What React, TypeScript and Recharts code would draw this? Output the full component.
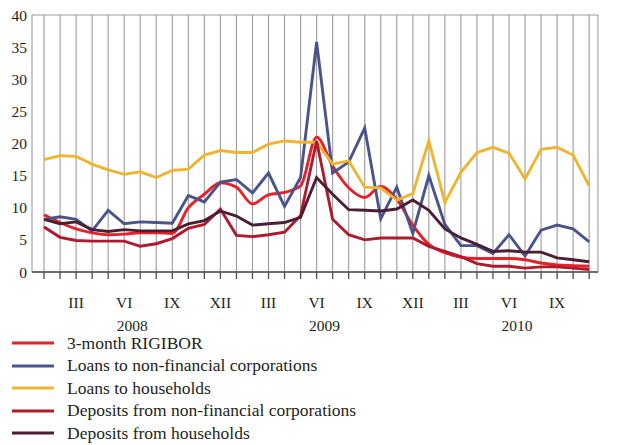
import { LineChart, Line, XAxis, YAxis, CartesianGrid, Legend } from 'recharts';

// monthly values, Jan 2008 - Nov 2010
const romanMonths = ['I', 'II', 'III', 'IV', 'V', 'VI', 'VII', 'VIII', 'IX', 'X', 'XI', 'XII'];
const shownMonths = ['III', 'VI', 'IX', 'XII'];
const years = ['2008', '2009', '2010'];

const rigibor = [8.9, 7.7, 6.7, 6.1, 5.8, 5.9, 6.1, 6.1, 6.0, 10.0, 12.1, 13.9, 13.2, 10.6, 12.0, 12.4, 13.4, 21.0, 16.5, 13.1, 11.6, 13.3, 11.3, 7.3, 4.3, 3.0, 2.3, 2.1, 2.1, 2.1, 1.9, 1.4, 1.1, 1.0, 0.9];
const loansNfc = [8.2, 8.6, 8.2, 6.4, 9.6, 7.5, 7.8, 7.7, 7.6, 11.9, 10.9, 14.0, 14.4, 12.3, 15.4, 10.2, 14.7, 35.8, 15.4, 17.1, 22.4, 8.3, 13.2, 6.0, 15.0, 7.4, 4.1, 4.1, 2.9, 5.8, 2.5, 6.5, 7.3, 6.7, 4.7];
const loansHh = [17.5, 18.1, 18.0, 16.8, 15.9, 15.2, 15.6, 14.7, 15.8, 16.0, 18.2, 18.9, 18.6, 18.6, 19.9, 20.4, 20.2, 20.2, 16.8, 17.3, 13.2, 13.1, 11.2, 12.2, 20.4, 10.8, 15.5, 18.6, 19.4, 18.5, 14.5, 19.1, 19.4, 18.2, 13.4];
const depositsNfc = [7.0, 5.4, 4.9, 4.8, 4.8, 4.8, 4.0, 4.4, 5.2, 6.8, 7.4, 9.8, 5.7, 5.5, 5.8, 6.2, 8.8, 20.4, 8.2, 5.8, 5.0, 5.3, 5.3, 5.3, 4.0, 3.2, 2.4, 1.3, 0.9, 0.9, 0.6, 0.8, 0.8, 0.6, 0.4];
const depositsHh = [8.2, 7.5, 7.8, 6.6, 6.3, 6.6, 6.4, 6.4, 6.4, 7.5, 8.0, 9.5, 8.7, 7.3, 7.5, 7.7, 8.5, 14.7, 12.1, 9.7, 9.6, 9.5, 9.8, 11.2, 9.6, 6.7, 5.3, 4.3, 3.2, 3.3, 3.1, 3.1, 2.2, 1.9, 1.6];

const data = rigibor.map((v, i) => ({
  i,
  rigibor: v,
  loansNfc: loansNfc[i],
  loansHh: loansHh[i],
  depositsNfc: depositsNfc[i],
  depositsHh: depositsHh[i],
}));

const series = [
  { key: 'rigibor', name: '3-month RIGIBOR', color: '#e62129', type: 'monotone' },
  { key: 'loansNfc', name: 'Loans to non-financial corporations', color: '#4a548a', type: 'linear' },
  { key: 'loansHh', name: 'Loans to households', color: '#efb52e', type: 'linear' },
  { key: 'depositsNfc', name: 'Deposits from non-financial corporations', color: '#b01a2c', type: 'linear' },
  { key: 'depositsHh', name: 'Deposits from households', color: '#4a1f34', type: 'linear' },
];

const FONT = '"Liberation Serif", "Times New Roman", serif';
const TEXT = '#231f20';
const xTicks = data.map((d) => d.i);
const yTicks = [0, 5, 10, 15, 20, 25, 30, 35, 40];

const MonthTick = (props: any) => {
  const { x, y, payload } = props;
  const idx = payload.value as number;
  const month = romanMonths[idx % 12];
  const yearLabel = idx % 12 === 5 ? years[Math.floor(idx / 12)] : null;
  return (
    <g>
      {shownMonths.includes(month) && (
        <text x={x} y={y + 29} textAnchor="middle" fontFamily={FONT} fontSize={15.5} fill={TEXT}>
          {month}
        </text>
      )}
      {yearLabel && (
        <text x={x + 8} y={y + 52} textAnchor="middle" fontFamily={FONT} fontSize={15.5} fill={TEXT}>
          {yearLabel}
        </text>
      )}
    </g>
  );
};

const LegendBox = () => (
  <div style={{ height: 113, fontFamily: FONT, fontSize: 17.5, color: TEXT }}>
    {series.map((s) => (
      <div key={s.key} style={{ height: 22.5, display: 'flex', alignItems: 'center' }}>
        <svg width={67} height={22} style={{ flex: 'none' }}>
          <line x1={12} x2={54} y1={11} y2={11} stroke={s.color} strokeWidth={3} />
        </svg>
        <span style={{ whiteSpace: 'nowrap', lineHeight: '17px' }}>{s.name}</span>
      </div>
    ))}
  </div>
);

export default function App() {
  return (
    <div style={{ position: 'absolute', left: 0, top: 0, width: 624, height: 445, background: '#fff' }}>
      <LineChart width={624} height={445} data={data} margin={{ top: 15, right: 0, bottom: 0, left: 0 }}>
        <CartesianGrid stroke="#9c9c9c" strokeWidth={1.1} />
        <XAxis
          dataKey="i"
          type="number"
          domain={[-0.75, 34.55]}
          ticks={xTicks}
          interval={0}
          height={60}
          stroke="#4d4d4d"
          strokeWidth={1.3}
          tickSize={7}
          tickMargin={0}
          tick={<MonthTick />}
        />
        <YAxis
          yAxisId="left"
          domain={[0, 40]}
          ticks={yTicks}
          width={32}
          axisLine={false}
          tickLine={false}
          tickSize={0}
          tickMargin={5}
          tick={{ fontFamily: FONT, fontSize: 15.5, fill: TEXT }}
        />
        <YAxis
          yAxisId="right"
          orientation="right"
          domain={[0, 40]}
          ticks={yTicks}
          width={26}
          axisLine={false}
          tickLine={false}
          tickSize={0}
          tickMargin={7}
          tick={{ fontFamily: FONT, fontSize: 15.5, fill: TEXT, textAnchor: 'start' }}
        />
        <Legend verticalAlign="bottom" align="left" wrapperStyle={{ left: 0, width: 624 }} content={<LegendBox />} />
        {series.map((s) => (
          <Line
            key={s.key}
            yAxisId="left"
            type={s.type as any}
            dataKey={s.key}
            name={s.name}
            stroke={s.color}
            strokeWidth={2.9}
            dot={false}
            activeDot={false}
            isAnimationActive={false}
          />
        ))}
      </LineChart>
    </div>
  );
}
